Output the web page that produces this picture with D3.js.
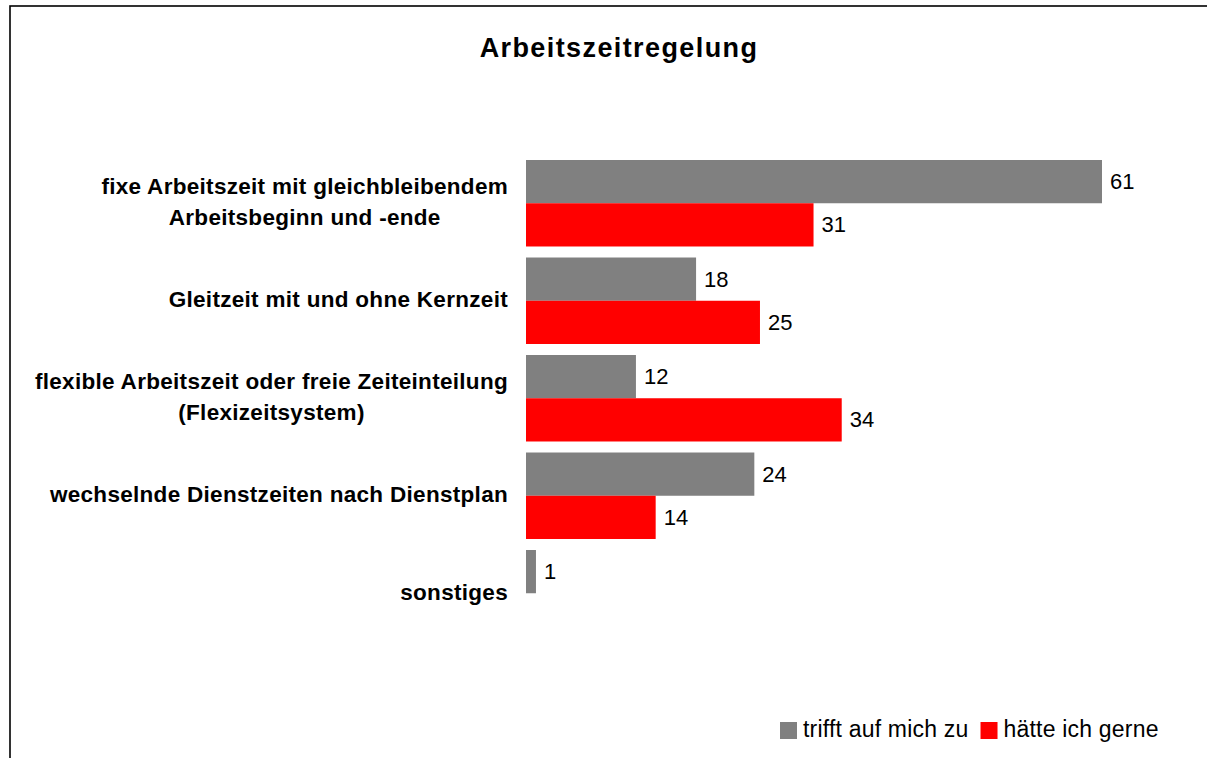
<!DOCTYPE html>
<html>
<head>
<meta charset="utf-8">
<script src="https://cdn.jsdelivr.net/npm/d3@7"></script>
<style>
  html, body { margin: 0; padding: 0; background: #fff; }
  svg { display: block; }
  text { font-family: "Liberation Sans", Arial, sans-serif; }
</style>
</head>
<body>
<svg id="chart" width="1207" height="758"></svg>
<script>
const title = "Arbeitszeitregelung";
const categories = [
  ["fixe Arbeitszeit mit gleichbleibendem", "Arbeitsbeginn und -ende"],
  ["Gleitzeit mit und ohne Kernzeit"],
  ["flexible Arbeitszeit oder freie Zeiteinteilung", "(Flexizeitsystem)"],
  ["wechselnde Dienstzeiten nach Dienstplan"],
  ["sonstiges"]
];
const seriesNames = ["trifft auf mich zu", "hätte ich gerne"];
const seriesColors = ["#808080", "#ff0000"];
const valuesTrifft = [61.3, 18.1, 11.7, 24.3, 1.06];
const valuesGerne  = [30.6, 24.9, 33.6, 13.8, null];

const W = 1207, H = 758;
const svg = d3.select("#chart");

// frame
svg.append("rect").attr("x", 10).attr("y", 6).attr("width", W + 20).attr("height", H + 20)
  .attr("fill", "none").attr("stroke", "#000").attr("stroke-width", 1.6);

// title
svg.append("text").attr("x", 619).attr("y", 57).attr("text-anchor", "middle")
  .attr("font-size", 27).attr("font-weight", "bold").attr("letter-spacing", 1.4)
  .text(title);

const catKeys = categories.map((c, i) => i);
const y = d3.scaleBand().domain(catKeys).range([154.5, 642]).paddingInner(0.113).paddingOuter(0.0565);
const ySub = d3.scaleBand().domain([0, 1]).range([0, y.bandwidth()]);
const x = d3.scaleLinear().domain([0, 61.3]).range([526, 1102]);

const data = [];
catKeys.forEach(i => {
  [valuesTrifft[i], valuesGerne[i]].forEach((v, s) => {
    if (v !== null) data.push({ cat: i, s, v });
  });
});

svg.append("g").selectAll("rect").data(data).join("rect")
  .attr("x", x(0))
  .attr("y", d => y(d.cat) + ySub(d.s))
  .attr("width", d => x(d.v) - x(0))
  .attr("height", ySub.bandwidth())
  .attr("fill", d => seriesColors[d.s]);

const fmt = d3.format(".0f");
svg.append("g").selectAll("text").data(data).join("text")
  .attr("x", d => x(d.v) + 8)
  .attr("y", d => y(d.cat) + ySub(d.s) + ySub.bandwidth() / 2 + 7.5)
  .attr("font-size", 22)
  .text(d => fmt(d.v));

// category labels: block right-aligned at 508, lines centered within block
const labelRight = 508;
const lineH = 31;
categories.forEach((lines, i) => {
  const cy = y(i) + y.bandwidth() / 2;
  const g = svg.append("g");
  const texts = lines.map((ln, k) => g.append("text")
    .attr("font-size", 22.5).attr("font-weight", "bold").attr("letter-spacing", 0.3)
    .attr("text-anchor", "middle")
    .attr("y", cy + 6.5 + (k - (lines.length - 1) / 2) * lineH)
    .text(ln));
  const maxW = d3.max(texts, t => t.node().getComputedTextLength());
  texts.forEach(t => t.attr("x", labelRight - maxW / 2));
});

// legend
let lx = 780;
const leg = svg.append("g");
seriesNames.forEach((name, s) => {
  leg.append("rect").attr("x", lx).attr("y", 722).attr("width", 17).attr("height", 17)
    .attr("fill", seriesColors[s]);
  const t = leg.append("text").attr("x", lx + 23).attr("y", 737)
    .attr("font-size", 23).attr("letter-spacing", 0.2).text(name);
  lx = lx + 23 + t.node().getComputedTextLength() + 12;
});
</script>
</body>
</html>
